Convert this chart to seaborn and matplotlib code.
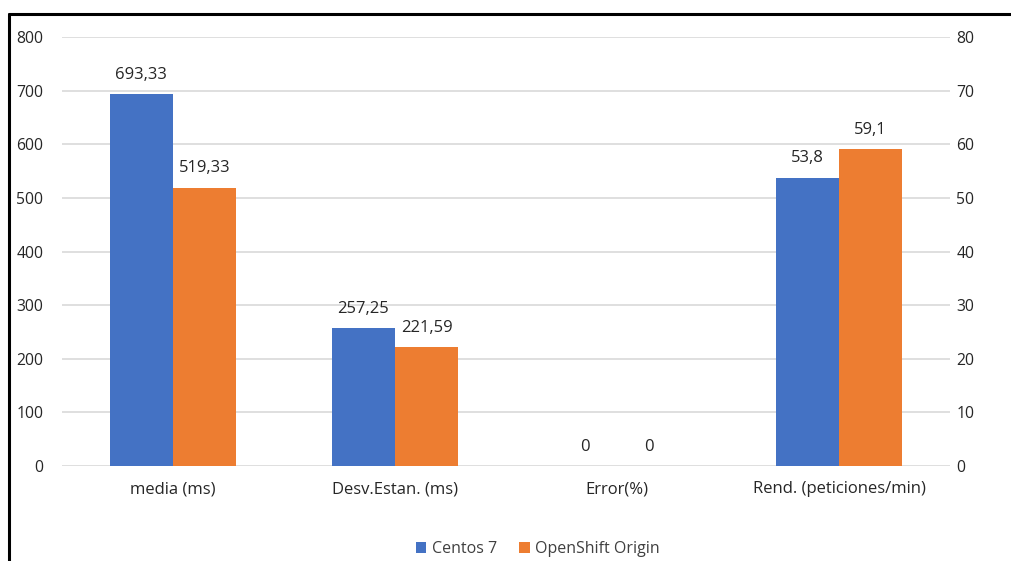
import matplotlib
matplotlib.use("Agg")
import matplotlib.pyplot as plt
import seaborn as sns
import pandas as pd
from matplotlib.lines import Line2D
from matplotlib.patches import Patch

categories = ["media (ms)", "Desv.Estan. (ms)", "Error(%)", "Rend. (peticiones/min)"]
series = ["Centos 7", "OpenShift Origin"]
centos = [693.33, 257.25, 0, 53.8]
openshift = [519.33, 221.59, 0, 59.1]
left_ticks = [0, 100, 200, 300, 400, 500, 600, 700, 800]
right_ticks = [0, 10, 20, 30, 40, 50, 60, 70, 80]
colors = ["#4472C4", "#ED7D31"]

sns.set_theme(style="white")
plt.rcParams["font.family"] = ["Open Sans", "DejaVu Sans"]

rows = []
for cat, c, o in zip(categories, centos, openshift):
    rows.append({"cat": cat, "serie": series[0], "valor": c})
    rows.append({"cat": cat, "serie": series[1], "valor": o})
df = pd.DataFrame(rows)
df_left = df[df["cat"] != categories[-1]]
df_right = df[df["cat"] == categories[-1]]

fig = plt.figure(figsize=(10.11, 5.61), dpi=100)
ax = fig.add_axes([0.0613, 0.1693, 0.8783, 0.7647])
ax2 = ax.twinx()

palette = dict(zip(series, colors))
bar_kw = dict(x="cat", y="valor", hue="serie", order=categories, hue_order=series,
              palette=palette, width=0.57, saturation=1, errorbar=None,
              legend=False, linewidth=0, zorder=3)
sns.barplot(data=df_left, ax=ax, **bar_kw)
sns.barplot(data=df_right, ax=ax2, **bar_kw)

ax.set_ylim(0, 800)
ax2.set_ylim(0, 80)
ax.set_yticks(left_ticks)
ax2.set_yticks(right_ticks)
ax.set_xlim(-0.5, len(categories) - 0.5)
ax.yaxis.grid(True, color="#d9d9d9", linewidth=1.2, zorder=0)
ax.set_axisbelow(True)

for a in (ax, ax2):
    for s in a.spines.values():
        s.set_visible(False)
    a.set_xlabel("")
    a.set_ylabel("")
    a.tick_params(axis="both", length=0, labelsize=11.3, colors="#262626")
ax.tick_params(axis="y", pad=13.5)
ax2.tick_params(axis="y", pad=4.5)
ax.tick_params(axis="x", pad=11, labelsize=12)


def fmt(v):
    s = f"{v:.2f}".rstrip("0").rstrip(".")
    return s.replace(".", ",")


for a in (ax, ax2):
    for cont in a.containers:
        labels = [fmt(v) if v == v else "" for v in cont.datavalues]
        a.bar_label(cont, labels=labels, padding=8, fontsize=12, color="#262626")

handles = [Patch(facecolor=c, edgecolor="none", label=s) for s, c in zip(series, colors)]
fig.legend(handles=handles, loc="center", bbox_to_anchor=(0.532, 0.021), ncol=2,
           frameon=False, fontsize=11.5, handlelength=0.65, handleheight=0.65,
           handletextpad=0.35, columnspacing=1.4, labelcolor="#404040")

# frame border along the top and left edges
fig.add_artist(Line2D([9 / 1011, 1.0], [1 - 14 / 561, 1 - 14 / 561],
                      transform=fig.transFigure, color="black", linewidth=2.2))
fig.add_artist(Line2D([9 / 1011, 9 / 1011], [0.0, 1 - 14 / 561],
                      transform=fig.transFigure, color="black", linewidth=2.2))

fig.savefig("out.png", dpi=100)
